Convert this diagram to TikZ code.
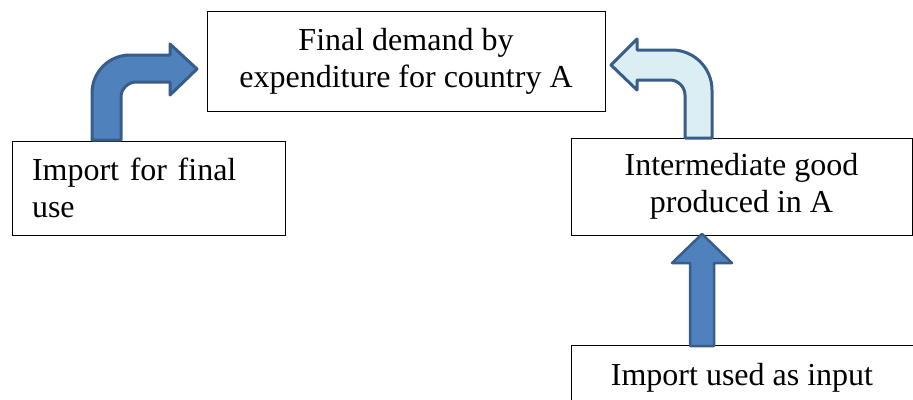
\documentclass[tikz,border=0pt]{standalone}
\usepackage{fontspec}
\setmainfont{Liberation Serif}
\definecolor{arrowfill}{HTML}{4F81BD}
\definecolor{arrowline}{HTML}{385D8A}
\definecolor{lightfill}{HTML}{DBEEF4}
\begin{document}
\begin{tikzpicture}[x=1pt,y=-1pt,
  box/.style={draw, line width=1pt, inner sep=0pt, font=\fontsize{32}{37}\selectfont},
  blockarrow/.style={draw=arrowline, line width=3pt, line join=round}]
\useasboundingbox (0,0) rectangle (913,399);
\clip (0,0) rectangle (913,399);
\node[box, minimum width=398pt, minimum height=100pt, align=center] (fd) at (406,61) {Final demand by\\expenditure for country A};
\node[box, minimum width=273pt, minimum height=94pt, align=left, text width=233pt] (imf) at (148.5,188) {Import for final\\use};
\node[box, minimum width=341pt, minimum height=97pt, align=center] (ig) at (741.5,186.5) {Intermediate good\\produced in A};
\node[box, minimum width=342pt, minimum height=66pt] (iu) at (742,378) {Import used as input};
% left bent arrow
\draw[blockarrow, fill=arrowfill] (92,140) -- (92,93) .. controls (92,72) and (109,55) .. (130,55) -- (170,55) -- (170,44) -- (197,69) -- (170,95) -- (170,82) -- (136,82) .. controls (128,82) and (121,89) .. (121,97) -- (121,140) -- cycle;
% right bent arrow
\draw[blockarrow, fill=lightfill] (712,138) -- (712,90) .. controls (712,68) and (694,50) .. (672,50) -- (637,50) -- (637,39) -- (611,65) -- (637,90) -- (637,80) -- (670,80) .. controls (678,80) and (685,87) .. (685,95) -- (685,138) -- cycle;
% up arrow
\draw[blockarrow, line width=2.5pt, fill=arrowfill] (690,346) -- (690,263) -- (672,263) -- (702,234) -- (732,263) -- (714,263) -- (714,346) -- cycle;
\end{tikzpicture}
\end{document}
